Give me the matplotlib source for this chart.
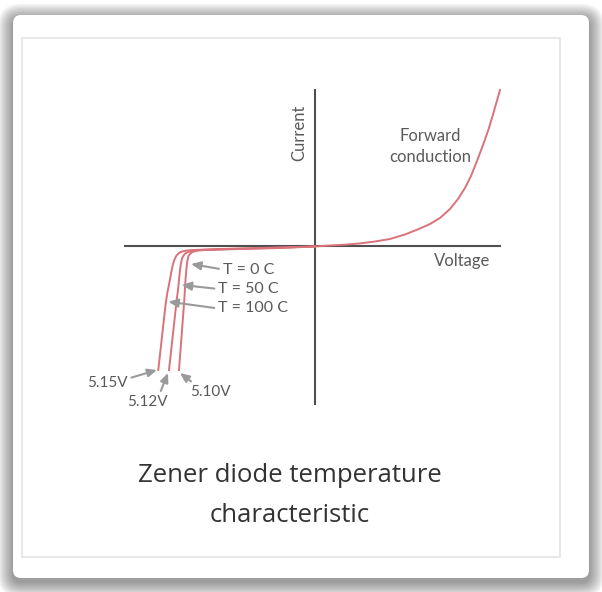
#!/usr/bin/env python3
"""plot.py
Zener diode temperature characteristic, drawn as a schematic I-V sketch on a card.
"""
import matplotlib
matplotlib.use("Agg")
from matplotlib import pyplot as plt
from matplotlib.patches import FancyBboxPatch, Rectangle

# Forward conduction branch (arbitrary units)
fwd_v = [0, 0.15, 0.30, 0.45, 0.60, 0.75, 0.90, 1.05, 1.15, 1.25, 1.35, 1.43, 1.50,
         1.56, 1.62, 1.68, 1.74, 1.79, 1.85]
fwd_i = [-0.005, 0.005, 0.013, 0.026, 0.045, 0.07, 0.115, 0.175, 0.22, 0.28, 0.37, 0.47,
         0.58, 0.70, 0.85, 1.01, 1.18, 1.35, 1.56]

# Reverse (zener) branches for each temperature
t0_v = [-1.36, -1.307, -1.295, -1.285, -1.277, -1.267, -1.25, -1.225, -1.183, -1.10,
        -0.75, -0.35, 0]
t0_i = [-1.24, -0.54, -0.34, -0.22, -0.15, -0.105, -0.078, -0.06, -0.047, -0.04,
        -0.03, -0.02, -0.005]
t50_v = [-1.46, -1.383, -1.37, -1.36, -1.35, -1.34, -1.33, -1.315, -1.295, -1.27, -1.233,
         -1.15, -0.85, -0.45, 0]
t50_i = [-1.24, -0.54, -0.44, -0.34, -0.24, -0.17, -0.125, -0.095, -0.073, -0.06, -0.05,
         -0.04, -0.03, -0.02, -0.005]
t100_v = [-1.567, -1.495, -1.475, -1.455, -1.437, -1.42, -1.403, -1.385, -1.36, -1.33,
          -1.29, -1.22, -0.95, -0.55, 0]
t100_i = [-1.24, -0.59, -0.46, -0.36, -0.26, -0.18, -0.13, -0.095, -0.07, -0.055,
          -0.046, -0.04, -0.03, -0.02, -0.005]

temp_labels = ["T = 0 C", "T = 50 C", "T = 100 C"]
temp_tips = [(-1.24, -0.18), (-1.333, -0.39), (-1.467, -0.557)]
temp_text = [(-0.92, -0.235), (-0.965, -0.43), (-0.965, -0.625)]

volt_labels = ["5.15V", "5.12V", "5.10V"]
volt_tips = [(-1.58, -1.24), (-1.47, -1.27), (-1.35, -1.27)]
volt_text = [(-2.08, -1.37), (-1.68, -1.56), (-1.05, -1.46)]
volt_relpos = [(1.0, 0.8), (0.8, 1.0), (0.15, 1.0)]

curve_color = "#d9727a"
axis_color = "#4f4f4f"
arrow_color = "#9a9a9a"
text_color = "#5a5a5a"

fig = plt.figure(figsize=(6.02, 5.92), dpi=100)
fig.patch.set_facecolor("white")

# Background card, in pixel coordinates
bg = fig.add_axes([0, 0, 1, 1], zorder=0)
bg.set_xlim(0, 602)
bg.set_ylim(592, 0)
bg.axis("off")

# soft drop shadow
for k in range(14):
    grow = 1.0 + k * 1.1
    bg.add_patch(FancyBboxPatch((13 - grow, 15 - grow + 4), 576 + 2 * grow, 563 + 2 * grow,
                                boxstyle=f"round,pad=0,rounding_size={8 + grow}",
                                facecolor="black", edgecolor="none", alpha=0.03))
bg.add_patch(FancyBboxPatch((13, 15), 576, 563, boxstyle="round,pad=0,rounding_size=8",
                            facecolor="white", edgecolor="none"))
bg.add_patch(Rectangle((22, 38), 538, 519, facecolor="none", edgecolor="#e6e6e6", lw=1.3))

bg.text(290, 475, "Zener diode temperature", ha="center", va="center",
        fontsize=18.5, family="Open Sans", color="#333333")
bg.text(290, 515, "characteristic", ha="center", va="center",
        fontsize=18.5, family="Open Sans", color="#333333")

# Chart axes: 100 px per unit, origin at the crossing of the axes
ax = fig.add_axes([0, 0, 1, 1], zorder=1)
ax.patch.set_alpha(0)
ax.set_xlim(-3.15, 2.87)
ax.set_ylim(-3.46, 2.46)
for s in ["top", "right"]:
    ax.spines[s].set_visible(False)
ax.spines["left"].set_position(("data", 0))
ax.spines["bottom"].set_position(("data", 0))
ax.spines["left"].set_bounds(-1.58, 1.56)
ax.spines["bottom"].set_bounds(-1.90, 1.85)
for s in ["left", "bottom"]:
    ax.spines[s].set_color(axis_color)
    ax.spines[s].set_linewidth(1.5)
    ax.spines[s].set_zorder(1)
ax.set_xticks([])
ax.set_yticks([])

ax.plot(fwd_v, fwd_i, color=curve_color, lw=1.4, zorder=3, solid_joinstyle="round")
for v, i in [(t0_v, t0_i), (t50_v, t50_i), (t100_v, t100_i)]:
    ax.plot(v, i, color=curve_color, lw=1.4, zorder=3, solid_joinstyle="round")

label_font = dict(family="Lato", fontsize=12, color=text_color)

ax.text(-0.16, 1.13, "Current", rotation=90, ha="center", va="center", **label_font)
ax.text(1.47, -0.15, "Voltage", ha="center", va="center", **label_font)
ax.text(1.15, 0.995, "Forward\nconduction", ha="center", va="center",
        linespacing=1.35, **label_font)

arrow = dict(arrowstyle="-|>,head_length=0.5,head_width=0.22", color=arrow_color,
             lw=1.5, shrinkA=1, shrinkB=0)

for lab, tip, pos in zip(temp_labels, temp_tips, temp_text):
    ax.annotate(lab, xy=tip, xytext=pos, ha="left", va="center",
                arrowprops=dict(arrow, relpos=(0.0, 0.5)),
                **dict(label_font, fontsize=11.5))

for lab, tip, pos, rp in zip(volt_labels, volt_tips, volt_text, volt_relpos):
    ax.annotate(lab, xy=tip, xytext=pos, ha="center", va="center",
                arrowprops=dict(arrow, relpos=rp),
                **dict(label_font, fontsize=11))

fig.savefig("out.png", dpi=100)
